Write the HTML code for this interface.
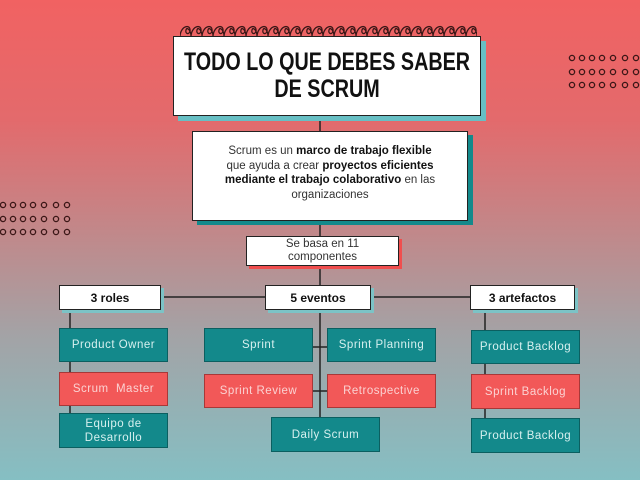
<!DOCTYPE html>
<html><head><meta charset="utf-8"><style>
html,body{margin:0;padding:0;width:640px;height:480px;overflow:hidden}
body{background:linear-gradient(180deg,#f16262 0%,#e36a6c 25%,#bf8a8c 50%,#a3a3a6 70%,#85bfc3 100%);font-family:"Liberation Sans",sans-serif;position:relative}
.b{position:absolute;box-sizing:border-box;display:flex;align-items:center;justify-content:center;text-align:center}
.w{background:#fff;border:1.5px solid #222}
.t{background:#13898b;border:1px solid #0b5f60;color:#d6f0ef;font-size:11.5px;letter-spacing:.5px}
.r{background:#f25858;border:1px solid #a83838;color:#fbd2d2;font-size:11.5px;letter-spacing:.5px}
.h{font-weight:bold;font-size:12px;color:#111;box-shadow:3px 3px 0 #7cc3c6}
</style></head><body>
<svg width="640" height="480" style="position:absolute;left:0;top:0">
<defs><pattern id="lp" x="180" y="23" width="11" height="14" patternUnits="userSpaceOnUse">
<path d="M0 13 C1 2 11 1 10 8 C9 12 5 11 6 7 C7 3 11 8 11 13" fill="none" stroke="#3a1616" stroke-width="1.3"/></pattern></defs>
<rect x="180" y="23" width="297" height="14" fill="url(#lp)"/>
<g fill="none" stroke="#3a1616" stroke-width="1.3">
<g id="dl">
<circle cx="3" cy="205" r="2.6"/><circle cx="13" cy="205" r="2.6"/><circle cx="23" cy="205" r="2.6"/><circle cx="33" cy="205" r="2.6"/><circle cx="44" cy="205" r="2.6"/><circle cx="56" cy="205" r="2.6"/><circle cx="67" cy="205" r="2.6"/>
<circle cx="3" cy="219" r="2.6"/><circle cx="13" cy="219" r="2.6"/><circle cx="23" cy="219" r="2.6"/><circle cx="33" cy="219" r="2.6"/><circle cx="44" cy="219" r="2.6"/><circle cx="56" cy="219" r="2.6"/><circle cx="67" cy="219" r="2.6"/>
<circle cx="3" cy="232" r="2.6"/><circle cx="13" cy="232" r="2.6"/><circle cx="23" cy="232" r="2.6"/><circle cx="33" cy="232" r="2.6"/><circle cx="44" cy="232" r="2.6"/><circle cx="56" cy="232" r="2.6"/><circle cx="67" cy="232" r="2.6"/>
</g>
<use href="#dl" transform="translate(569,-147)"/>
</g>
<g stroke="#222" stroke-width="1.5" fill="none">
<line x1="320" y1="115" x2="320" y2="131"/>
<line x1="320" y1="220" x2="320" y2="236"/>
<line x1="320" y1="265" x2="320" y2="285"/>
<line x1="160" y1="297" x2="265" y2="297"/>
<line x1="370" y1="297" x2="470" y2="297"/>
<line x1="70" y1="309" x2="70" y2="420"/>
<line x1="485" y1="309" x2="485" y2="420"/>
<line x1="320" y1="309" x2="320" y2="418"/>
<line x1="313" y1="347" x2="327" y2="347"/>
<line x1="313" y1="391" x2="327" y2="391"/>
</g>
</svg>
<div class="b w" style="left:173px;top:36px;width:308px;height:80px;box-shadow:5px 5px 0 #67bfc4;font-weight:bold;font-size:25px;line-height:27px;color:#111;white-space:nowrap"><span style="display:inline-block;transform:scaleX(.79)">TODO LO QUE DEBES SABER<br>DE SCRUM</span></div>
<div class="b w" style="left:192px;top:131px;width:276px;height:90px;box-shadow:5px 4px 0 #13898b;font-size:11.5px;line-height:14.5px;color:#333;padding-bottom:6px;white-space:nowrap">
<div>Scrum es un <b style="color:#111">marco de trabajo flexible</b><br>que ayuda a crear <b style="color:#111">proyectos eficientes</b><br><b style="color:#111">mediante el trabajo colaborativo</b> en las<br>organizaciones</div></div>
<div class="b w" style="left:246px;top:236px;width:153px;height:30px;box-shadow:3px 3px 0 #f04e4e;font-size:11.5px;line-height:13px;color:#333">Se basa en 11<br>componentes</div>
<div class="b w h" style="left:59px;top:285px;width:102px;height:25px">3 roles</div>
<div class="b w h" style="left:265px;top:285px;width:106px;height:25px">5 eventos</div>
<div class="b w h" style="left:470px;top:285px;width:105px;height:25px">3 artefactos</div>
<div class="b t" style="left:59px;top:328px;width:109px;height:34px">Product Owner</div>
<div class="b r" style="left:59px;top:372px;width:109px;height:34px">Scrum &nbsp;Master</div>
<div class="b t" style="left:59px;top:413px;width:109px;height:35px;line-height:14px">Equipo de<br>Desarrollo</div>
<div class="b t" style="left:204px;top:328px;width:109px;height:34px">Sprint</div>
<div class="b t" style="left:327px;top:328px;width:109px;height:34px">Sprint Planning</div>
<div class="b r" style="left:204px;top:374px;width:109px;height:34px">Sprint Review</div>
<div class="b r" style="left:327px;top:374px;width:109px;height:34px">Retrospective</div>
<div class="b t" style="left:271px;top:417px;width:109px;height:35px">Daily Scrum</div>
<div class="b t" style="left:471px;top:330px;width:109px;height:34px">Product Backlog</div>
<div class="b r" style="left:471px;top:374px;width:109px;height:35px">Sprint Backlog</div>
<div class="b t" style="left:471px;top:418px;width:109px;height:35px">Product Backlog</div>
</body></html>
